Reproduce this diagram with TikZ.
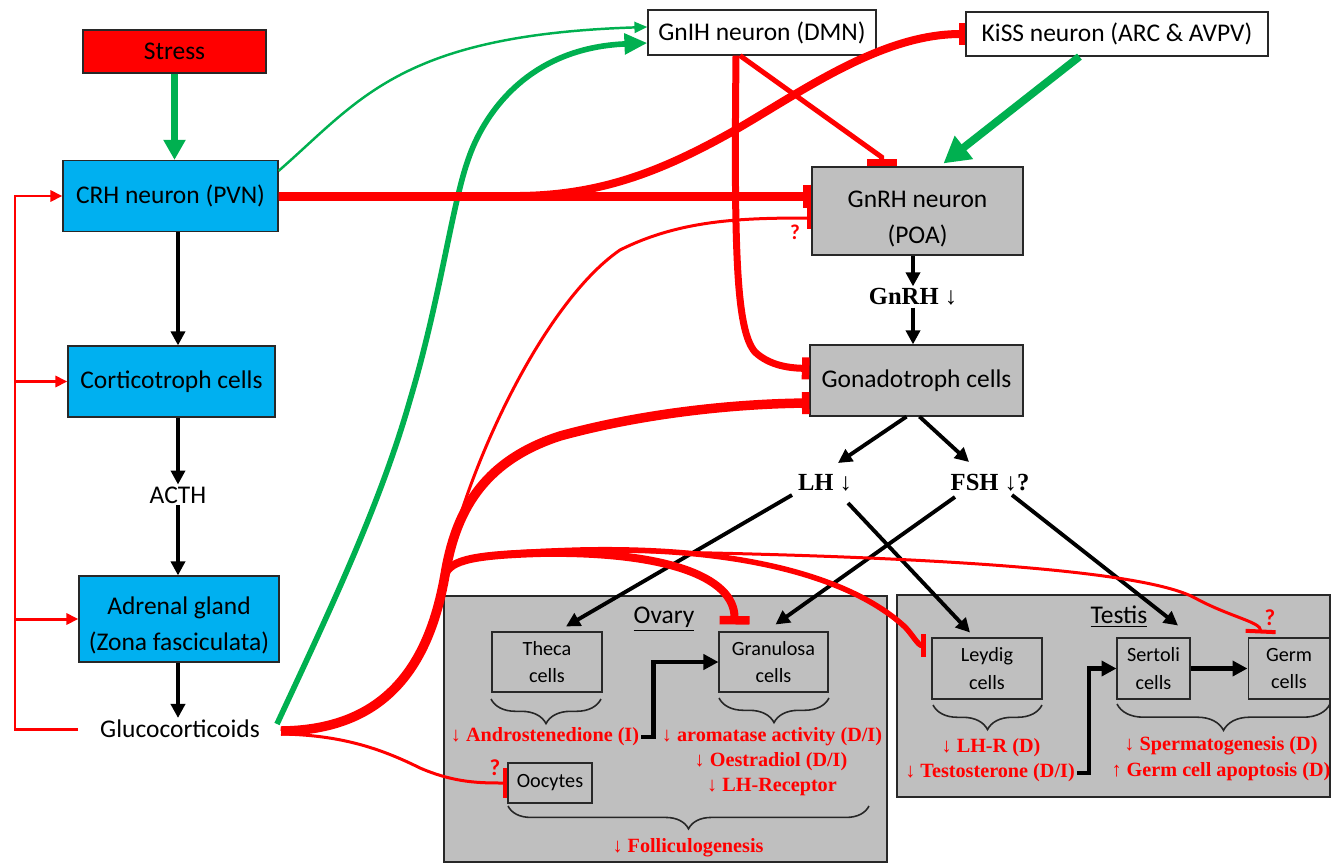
\documentclass[tikz,border=0pt]{standalone}
\usepackage{fontspec}
\setmainfont{Carlito}
\newfontfamily\tnrfont{Liberation Serif}
\usetikzlibrary{arrows.meta,decorations.pathreplacing,calc}

\definecolor{boxcyan}{RGB}{0,176,240}
\definecolor{boxgray}{RGB}{191,191,191}
\definecolor{grn}{RGB}{0,176,80}
\definecolor{rdd}{RGB}{255,0,0}
\definecolor{edge}{RGB}{40,40,40}

\begin{document}
\begin{tikzpicture}[x=0.02cm,y=-0.02cm,
  box/.style={draw=edge, line width=0.7pt, inner sep=0pt, align=center, font=\fontsize{14.5}{20.5}\selectfont},
  cbox/.style={box, fill=boxcyan},
  gbox/.style={box, fill=boxgray},
  wbox/.style={box, fill=white},
  plain/.style={inner sep=1pt, font=\fontsize{14.5}{17}\selectfont},
  boxtext/.style={inner sep=0pt, align=center, font=\fontsize{14.5}{20.5}\selectfont},
  cell/.style={draw=edge, fill=boxgray, line width=0.6pt, inner sep=0pt, align=center, font=\fontsize{11.5}{15.5}\selectfont},
  hormone/.style={font=\tnrfont\bfseries\fontsize{14}{16}\selectfont, inner sep=1pt},
  effect/.style={text=rdd, font=\tnrfont\bfseries\fontsize{11.5}{14}\selectfont, inner sep=1pt},
  qmark/.style={text=rdd, font=\bfseries\fontsize{13}{15}\selectfont, inner sep=0pt},
  blk/.style={draw=black, line width=2.2pt, -{Triangle[length=0.28cm,width=0.28cm]}},
  blkthick/.style={draw=black, line width=2.6pt, -{Triangle[length=0.3cm,width=0.3cm]}},
  fbk/.style={draw=rdd, line width=1.7pt, -{Triangle[length=0.24cm,width=0.22cm]}},
  inh/.style 2 args={draw=rdd, -{Bar[width=#1,line width=#2]}},
  brc/.style={decorate, decoration={brace, mirror, amplitude=#1}, line width=0.9pt, draw=black!85}
]
\useasboundingbox (0,0) rectangle (1331,862);

% ---------- gonad panels ----------
\node[draw=edge, fill=boxgray, line width=0.7pt, minimum width=8.86cm, minimum height=5.32cm, inner sep=0pt] (ovary) at (665.5,729) {};
\node[draw=edge, fill=boxgray, line width=0.7pt, minimum width=8.66cm, minimum height=4.04cm, inner sep=0pt] (testis) at (1113.5,696) {};
\node[plain] (ovlab) at (664,619) {\underline{Ovary}};
\node[plain] (telab) at (1119,617) {\underline{Testis}};

% ---------- left axis ----------
\node[box, fill=rdd, minimum width=3.66cm, minimum height=0.86cm] (stress) at (174.5,51.5) {Stress};
\node[cbox, minimum width=4.30cm, minimum height=1.42cm] (crh) at (170.5,196) {CRH neuron (PVN)};
\node[cbox, minimum width=4.14cm, minimum height=1.42cm] (cort) at (171.5,381.5) {Corticotroph cells};
\node[plain] (acth) at (178,495) {ACTH};
\node[cbox, minimum width=4.0cm, minimum height=1.72cm] (adr) at (179,619) {};
\node[boxtext] (adrlab) at (179,625) {Adrenal gland\\(Zona fasciculata)};
\node[plain] (gc) at (180,729) {Glucocorticoids};
\coordinate (gcout) at (281,731);
\coordinate (gcgreen) at (277,724);
\coordinate (fb) at (78,729);

% ---------- top / right ----------
\node[wbox, minimum width=4.56cm, minimum height=0.90cm] (gnih) at (762,32.5) {GnIH neuron (DMN)};
\node[wbox, minimum width=6.04cm, minimum height=0.88cm] (kiss) at (1117,34) {KiSS neuron (ARC \& AVPV)};
\node[gbox, minimum width=4.22cm, minimum height=1.76cm] (gnrh) at (917.5,211) {};
\node[boxtext] (gnrhlab) at (917.5,219) {GnRH neuron\\(POA)};
\node[hormone] (gnrhtxt) at (913,297) {GnRH {\mdseries ↓}};
\node[gbox, minimum width=4.26cm, minimum height=1.42cm] (gonad) at (916.5,380.5) {Gonadotroph cells};
\node[hormone] (lh) at (825,483) {LH {\mdseries ↓}};
\node[hormone] (fsh) at (990,483) {FSH {\mdseries ↓}?};

% ---------- cells ----------
\node[cell, minimum width=2.2cm, minimum height=1.2cm] (theca) at (547,662) {Theca\\cells};
\node[cell, minimum width=2.18cm, minimum height=1.2cm] (gran) at (773.5,662) {Granulosa\\cells};
\node[cell, minimum width=1.68cm, minimum height=0.8cm] (ooc) at (550,783) {Oocytes};
\node[cell, minimum width=2.2cm, minimum height=1.22cm] (leydig) at (987,668.5) {Leydig\\cells};
\node[cell, minimum width=1.46cm, minimum height=1.22cm] (sert) at (1153.5,668.5) {Sertoli\\cells};
\node[cell, minimum width=1.64cm, minimum height=1.22cm] (germ) at (1289,668.5) {Germ\\cells};

% ---------- effects ----------
\node[effect] (andro) at (545,737) {{\mdseries ↓} Androstenedione (I)};
\node[effect] (aro) at (772,737) {{\mdseries ↓} aromatase activity (D/I)};
\node[effect] (oes) at (771,762) {{\mdseries ↓} Oestradiol (D/I)};
\node[effect] (lhrec) at (772,787) {{\mdseries ↓} LH-Receptor};
\node[effect] (foll) at (688,848) {{\mdseries ↓} Folliculogenesis};
\node[effect] (lhr) at (991,748) {{\mdseries ↓} LH-R (D)};
\node[effect] (testo) at (990,773) {{\mdseries ↓} Testosterone (D/I)};
\node[effect] (sperm) at (1221,746) {{\mdseries ↓} Spermatogenesis (D)};
\node[effect] (apop) at (1221,772) {{\mdseries ↑} Germ cell apoptosis (D)};

\node[qmark, font=\bfseries\fontsize{12}{14}\selectfont] (q1) at (795,232) {?};
\node[qmark] (q2) at (495,768) {?};
\node[qmark] (q3) at (1270,618) {?};

% ---------- braces ----------
\draw[brc=14pt] (491,699) -- (601,699);
\draw[brc=14pt] (719,698) -- (829,698);
\draw[brc=13pt] (508,806) -- (869,806);
\draw[brc=14pt] (933,705) -- (1042,705);
\draw[brc=15pt] (1117,704) -- (1330,704);

% ---------- black arrows ----------
\draw[blk] (crh.south -| acth) -- (cort.north -| acth);
\draw[blk] (cort.south -| acth) -- (acth.north);
\draw[blk] (acth.south) -- (adr.north -| acth);
\draw[blk] (adr.south -| acth) -- (gc.north -| acth);
\draw[blk] (gnrh.south -| gnrhtxt) -- (gnrhtxt.north);
\draw[blk] (gnrhtxt.south) -- (gonad.north -| gnrhtxt);
\draw[blk] ($(gonad.south)+(-10,0)$) -- ($(lh)+(13,-20)$);
\draw[blk] ($(gonad.south)+(3,0)$) -- ($(fsh)+(-21,-21)$);
\draw[blk] ($(lh)+(-33,12)$) -- ($(theca.north)+(19,-5)$);
\draw[blk] ($(lh)+(23,20)$) -- ($(leydig.north)+(-17,-5)$);
\draw[blk] ($(fsh)+(-35,14)$) -- ($(gran.north)+(2,-7)$);
\draw[blk] ($(fsh)+(22,12)$) -- ($(sert.north)+(24.5,-12)$);
\draw[blkthick] (andro.east) -- ++(12,0) |- (gran.west);
\draw[blkthick] (testo.east) -- ++(12,0) |- (sert.west);
\draw[blkthick] (sert.east) -- (germ.west);

% ---------- feedback loop ----------
\draw[fbk] (fb) -- (15,729) -- (15,196) -- (crh.west);
\draw[fbk] (15,381.5) -- (cort.west);
\draw[fbk] (15,619) -- (adr.west);

% ---------- green arrows ----------
\draw[draw=grn, line width=3.6pt, -{Triangle[length=0.4cm,width=0.42cm]}] (stress.south) -- (stress.south |- crh.north);
\draw[draw=grn, line width=1.4pt, -{Triangle[length=0.26cm,width=0.22cm]}] ($(crh.north east)+(0,11)$) .. controls (360,100) and (400,35) .. ($(gnih.west)+(0,-5.5)$);
\draw[draw=grn, line width=3.2pt, -{Triangle[length=0.46cm,width=0.4cm]}] (gcgreen) .. controls (330,610) and (380,505) .. (410,400) .. controls (440,300) and (452,205) .. (468,160) .. controls (482,118) and (525,48) .. ($(gnih.west)+(0,10.5)$);
\draw[draw=grn, line width=4.4pt, -{Triangle[length=0.52cm,width=0.56cm]}] ($(kiss.south west)+(114,0)$) -- ($(gnrh.north)+(26,-3)$);

% ---------- red inhibitions ----------
\draw[inh={0.46cm}{0.16cm}, line width=0.18cm] (crh.east) -- (crh.east -| gnrh.west);
\draw[inh={0.44cm}{0.13cm}, line width=0.16cm] (crh.east) -- (520,196) .. controls (600,195) and (660,172) .. (730,133) .. controls (800,93) and (880,34) .. (kiss.west);
\draw[inh={0.44cm}{0.15cm}, line width=0.14cm] ($(gnih.south)+(-26,0)$) .. controls (734,250) and (736,330) .. (755,352) .. controls (770,366) and (790,368) .. ($(gonad.west)+(0,-12)$);
\draw[inh={0.6cm}{0.14cm}, line width=0.1cm] ($(gnih.south)+(-22,0)$) -- (881.5,157) -- ($(gnrh.north)+(-36,0)$);

% glucocorticoid bundle
\draw[inh={0.44cm}{0.08cm}, line width=0.06cm] (gcout) .. controls (390,730) and (430,660) .. (445,575) .. controls (462,480) and (540,305) .. (620,250) .. controls (680,220) and (740,218) .. ($(gnrh.west)+(0,7)$);
\draw[inh={0.6cm}{0.08cm}, line width=0.06cm] (gcout) .. controls (390,730) and (430,660) .. (445,575) .. controls (450,560) and (475,552) .. (600,551) .. controls (900,555) and (1140,568) .. (1195,598) .. controls (1230,617) and (1261,622) .. ($(germ.north west)+(13,-4)$);
\draw[inh={0.46cm}{0.12cm}, line width=0.11cm] (gcout) .. controls (390,730) and (430,660) .. (445,575) .. controls (450,560) and (475,553) .. (580,550) .. controls (760,546) and (860,585) .. (905,627) .. controls (912,634) and (918,645.5) .. ($(leydig.west)+(-5,-23)$);
\draw[inh={0.6cm}{0.17cm}, line width=0.16cm] (gcout) .. controls (390,730) and (430,660) .. (445,575) .. controls (450,560) and (475,555) .. (540,553) .. controls (660,551) and (735,575) .. ($(gran.north west)+(16,-7)$);
\draw[inh={0.44cm}{0.15cm}, line width=0.19cm] (gcout) .. controls (390,730) and (430,660) .. (445,575) .. controls (455,515) and (480,462) .. (560,436) .. controls (640,414) and (730,404) .. ($(gonad.west)+(0,22.5)$);
\draw[inh={0.6cm}{0.08cm}, line width=0.06cm] ($(gcout)+(0,3)$) .. controls (340,735) and (380,748) .. (420,768) .. controls (455,783) and (480,783) .. (ooc.west);
\end{tikzpicture}
\end{document}
